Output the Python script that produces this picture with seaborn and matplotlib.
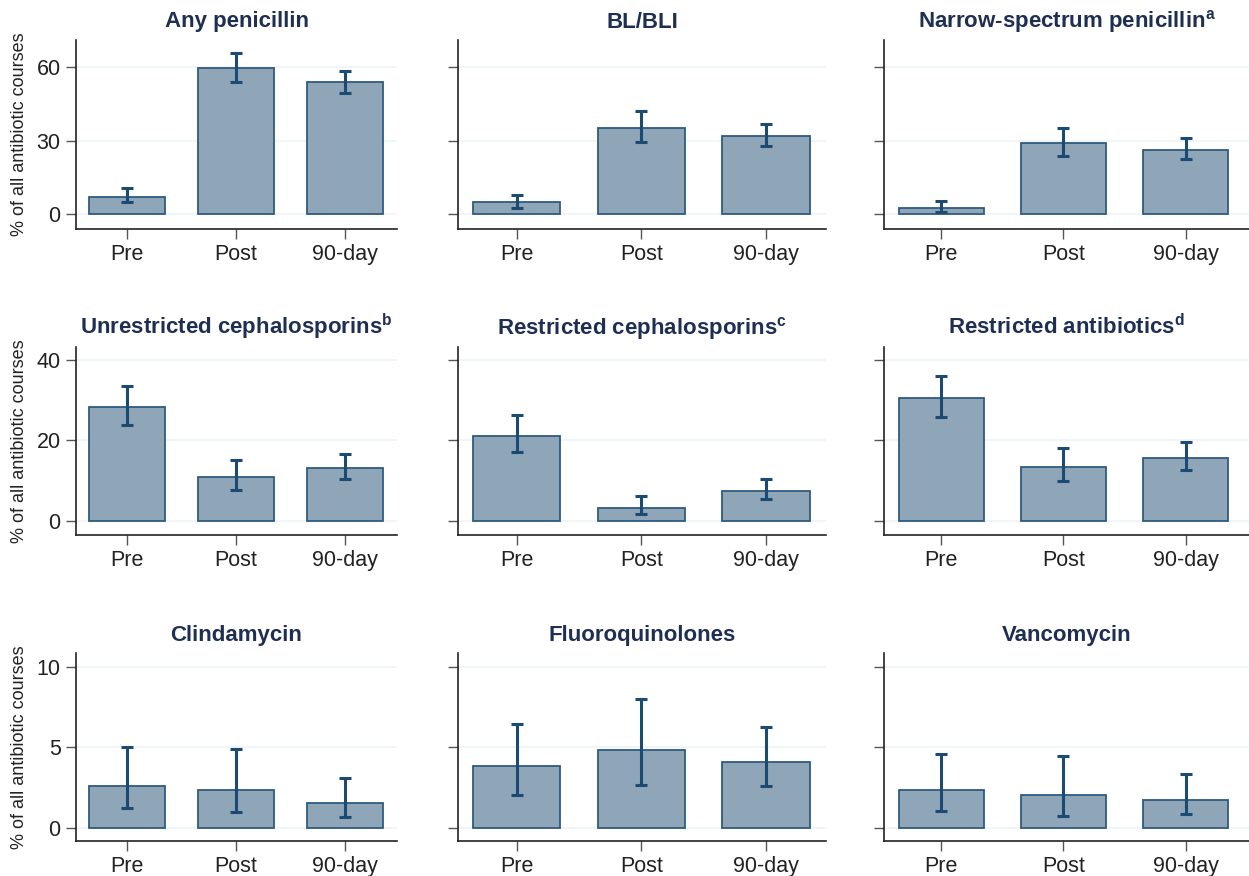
import matplotlib
matplotlib.use("Agg")
import pandas as pd
import seaborn as sns
import matplotlib.pyplot as plt

periods = ["Pre", "Post", "90-day"]

titles = [
    "Any penicillin", "BL/BLI", r"Narrow-spectrum penicillin$^{\mathbf{a}}$",
    r"Unrestricted cephalosporins$^{\mathbf{b}}$", r"Restricted cephalosporins$^{\mathbf{c}}$",
    r"Restricted antibiotics$^{\mathbf{d}}$",
    "Clindamycin", "Fluoroquinolones", "Vancomycin",
]

# percent of all antibiotic courses, with 95% CI
pct = [
    [7.1, 59.5, 54.0], [4.9, 35.1, 31.8], [2.4, 29.0, 26.1],
    [28.3, 10.8, 13.2], [21.2, 3.1, 7.5], [30.6, 13.5, 15.7],
    [2.6, 2.36, 1.53], [3.81, 4.8, 4.1], [2.32, 2.03, 1.74],
]
ci_low = [
    [4.8, 53.8, 49.4], [2.4, 29.4, 27.8], [0.8, 23.7, 22.4],
    [23.8, 7.6, 10.5], [17.2, 1.8, 5.5], [25.9, 10.0, 12.7],
    [1.2, 0.97, 0.68], [2.05, 2.67, 2.59], [1.01, 0.75, 0.83],
]
ci_high = [
    [10.7, 65.6, 58.5], [7.8, 42.0, 36.7], [5.3, 35.1, 31.0],
    [33.6, 15.2, 16.6], [26.2, 6.3, 10.3], [36.1, 18.2, 19.5],
    [5.0, 4.89, 3.09], [6.44, 7.97, 6.25], [4.58, 4.45, 3.35],
]

row_ticks = [[0, 30, 60], [0, 20, 40], [0, 5, 10]]
row_ylim = [(-6.1, 71.0), (-3.5, 43.2), (-0.83, 10.85)]

sns.set_theme(style="white")
plt.rcParams["font.family"] = ["Liberation Sans", "DejaVu Sans"]
plt.rcParams["mathtext.fontset"] = "custom"
plt.rcParams["mathtext.bf"] = "Liberation Sans:bold"
plt.rcParams["mathtext.rm"] = "Liberation Sans"

W, H = 1249, 876
fig = plt.figure(figsize=(W / 100, H / 100), dpi=100)

col_px = [(76, 397), (458, 826), (884, 1249)]
row_px = [(40, 229), (347, 535), (653, 841)]

bar_fill = "#8fa5b8"
bar_edge = "#2f5b7f"
err_col = "#1b4a72"
title_col = "#1f2f52"
grid_col = "#eef4f7"

for i in range(9):
    r, c = divmod(i, 3)
    x0, x1 = col_px[c]
    y0, y1 = row_px[r]
    ax = fig.add_axes([x0 / W, 1 - y1 / H, (x1 - x0) / W, (y1 - y0) / H])

    df = pd.DataFrame({"period": periods, "pct": pct[i]})
    sns.barplot(data=df, x="period", y="pct", order=periods, width=0.7,
                color=bar_fill, edgecolor=bar_edge, linewidth=1.3,
                saturation=1, errorbar=None, ax=ax)
    lo = [p - l for p, l in zip(pct[i], ci_low[i])]
    hi = [h - p for p, h in zip(pct[i], ci_high[i])]
    ax.errorbar(range(3), pct[i], yerr=[lo, hi], fmt="none", ecolor=err_col,
                elinewidth=2.2, capsize=4.2, capthick=2.2, zorder=5)

    ax.set_xlim(-0.47, 2.48 if c < 2 else 2.52)
    ax.set_ylim(*row_ylim[r])
    ax.set_yticks(row_ticks[r])
    ax.yaxis.grid(True, color=grid_col, linewidth=1.2)
    ax.set_axisbelow(True)
    ax.set_xlabel("")
    if c == 0:
        ax.set_yticklabels([str(t) for t in row_ticks[r]])
        ax.set_ylabel("% of all antibiotic courses", fontsize=13, labelpad=6, color="#222222")
    else:
        ax.set_yticklabels([])
        ax.set_ylabel("")
    ax.tick_params(axis="both", which="both", direction="out", length=7, width=1,
                   color="#555555", labelsize=15.5, labelcolor="#222222", pad=4,
                   left=True, bottom=True)
    for side in ["top", "right"]:
        ax.spines[side].set_visible(False)
    for side in ["left", "bottom"]:
        ax.spines[side].set_color("#222222")
        ax.spines[side].set_linewidth(1.2)
    ax.set_title(titles[i], fontsize=16, fontweight="bold", color=title_col, pad=9)

fig.savefig("out.png", dpi=100)
